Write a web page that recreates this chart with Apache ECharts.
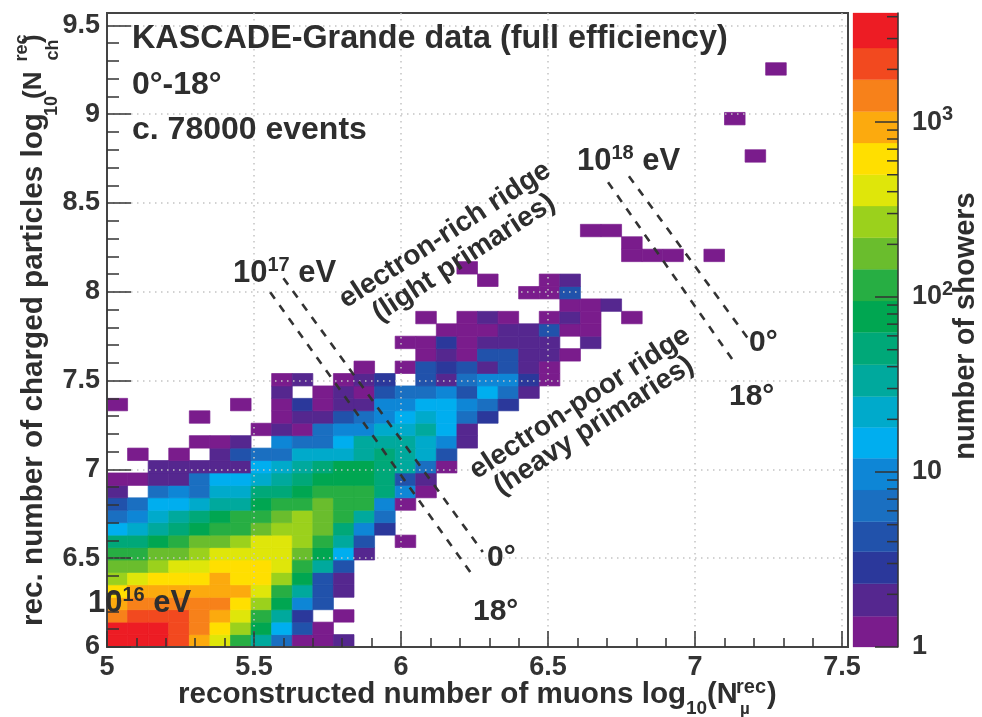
<!DOCTYPE html>
<html>
<head>
<meta charset="utf-8">
<style>html,body{margin:0;padding:0;background:#fff}#chart{width:982px;height:717px}</style>
<script src="https://cdn.jsdelivr.net/npm/echarts@6/dist/echarts.min.js"></script>
</head>
<body>
<div id="chart"></div>
<script>
// Histogram binning (log10 units)
const binOriginX = 5, binOriginY = 6, binSize = 0.07;
const xTicks = [5, 5.5, 6, 6.5, 7, 7.5];
const yTicks = [6, 6.5, 7, 7.5, 8, 8.5, 9, 9.5];

// Shower counts, one array per row of bins, lowest row first; 0 = empty bin
const counts = [
  [3300,3300,3300,2150,935,407,117,33,6,1,1,2],
  [3300,3300,3300,2150,1417,617,268,77,15,4,1],
  [1417,2150,2150,2150,1417,935,407,117,33,3,0,1],
  [935,1417,1417,1417,1417,1417,617,268,77,10,4],
  [617,935,935,935,935,935,935,407,117,33,4,2],
  [268,407,617,617,617,935,617,617,268,77,4,2],
  [177,177,268,407,407,617,617,617,407,117,33,4],
  [117,117,177,177,268,407,407,407,407,177,77,15,2],
  [50,50,77,117,177,177,268,407,407,268,117,33,4,0,1],
  [15,22,33,50,77,117,117,177,268,268,177,50,10,3],
  [6,10,22,33,50,77,117,117,177,268,177,117,33,6],
  [4,6,15,15,22,33,33,77,117,117,177,117,117,10,1],
  [2,0,6,10,6,22,22,50,50,77,117,117,117,50,10,1],
  [1,1,2,2,6,15,15,22,33,50,77,77,77,50,4,2],
  [0,0,2,2,2,2,2,15,22,33,50,77,77,50,33,6,1],
  [0,1,0,1,0,2,4,6,6,22,22,22,33,50,33,22,4],
  [0,0,0,0,1,1,2,0,10,6,6,15,33,33,33,22,10,2],
  [0,0,0,0,0,0,0,1,2,1,6,10,10,22,22,33,15,2],
  [0,0,0,0,1,0,0,0,1,2,2,4,6,10,15,22,15,6,3],
  [1,0,0,0,0,0,1,0,1,3,1,2,2,10,10,15,15,10,6,3],
  [0,0,0,0,0,0,0,0,2,0,1,2,1,4,6,6,10,4,15,6,2],
  [0,0,0,0,0,0,0,0,1,2,0,1,2,3,0,4,2,6,10,10,3,1],
  [0,0,0,0,0,0,0,0,0,0,0,0,1,0,1,4,3,4,2,4,2,1],
  [0,0,0,0,0,0,0,0,0,0,0,0,0,0,0,1,2,1,4,4,2,2,1],
  [0,0,0,0,0,0,0,0,0,0,0,0,0,0,1,1,3,1,2,2,2,2,0,2],
  [0,0,0,0,0,0,0,0,0,0,0,0,0,0,0,0,1,1,1,2,2,4,1,1],
  [0,0,0,0,0,0,0,0,0,0,0,0,0,0,0,1,0,1,2,1,0,1,2,1,0,1],
  [0,0,0,0,0,0,0,0,0,0,0,0,0,0,0,0,0,0,0,0,0,0,1,1,2],
  [0,0,0,0,0,0,0,0,0,0,0,0,0,0,0,0,0,0,0,0,1,1,4],
  [0,0,0,0,0,0,0,0,0,0,0,0,0,0,0,0,0,0,1,0,0,1,2]
];
// Isolated high bins: [column, row, count]
const isolatedBins = [
  [17,30,1],[25,31,1],[26,31,1],[27,31,1],[29,31,1],[25,32,1],
  [23,33,1],[24,33,1],[31,39,1],[30,42,1],[32,46,1]
];

// Colour scale
const colorEdges = [1,1.5,2.3,3.5,5.2,7.9,12,18,27,41,63,95,144,218,331,500,760,1150,1750,2650,4200];
const palette = ['#7a1c8c','#55278f','#2b389b','#2152ab','#1a6fc1','#0e86d6','#00aeef','#00aacb','#00a99d','#00a878',
                 '#00a651','#27ae43','#6abd2d','#9bd11c','#dfe60a','#ffdf00','#fcaa0e','#f7811a','#f2491f','#ed1c24'];
const colorbarMajor = [1,10,100,1000];
const colorbarMinor = [2,3,4,5,6,7,8,9,20,30,40,50,60,70,80,90,200,300,400,500,600,700,800,900,2000,3000,4000];

// Iso-energy guide lines [log10 Nmu, log10 Nch]
const line1e17deg0  = [[5.60,8.077],[6.278,6.535]];
const line1e17deg18 = [[5.555,7.998],[6.25,6.388]];
const line1e18deg0  = [[6.775,8.651],[7.184,7.728]];
const line1e18deg18 = [[6.704,8.617],[7.133,7.604]];

// Texts
const titleLines = ['KASCADE-Grande data (full efficiency)','0°-18°','c. 78000 events'];

const FONT = '"Liberation Sans", Arial, sans-serif';
const INK = '#2e2e2e';

const cells = [];
counts.forEach((row, r) => row.forEach((v, c) => { if (v > 0) cells.push([binOriginX + c*binSize, binOriginY + r*binSize, v]); }));
isolatedBins.forEach(b => cells.push([binOriginX + b[0]*binSize, binOriginY + b[1]*binSize, b[2]]));

const pieces = palette.map((color, i) => ({gte: colorEdges[i], lt: colorEdges[i+1], color}));
const bandData = palette.map((color, i) => ({value: [colorEdges[i], colorEdges[i+1]], itemStyle: {color}}));

function cellItem(params, api) {
  const x = api.value(0), y = api.value(1);
  const a = api.coord([x, y]), b = api.coord([x + binSize, y + binSize]);
  const col = api.visual('color');
  return {type: 'rect', shape: {x: a[0], y: b[1], width: b[0]-a[0], height: a[1]-b[1]},
          style: {fill: col, stroke: col, lineWidth: 0.7}};
}
function bandItem(params, api) {
  const a = api.coord([0, api.value(0)]), b = api.coord([1, api.value(1)]);
  return {type: 'rect', shape: {x: a[0], y: b[1], width: b[0]-a[0], height: a[1]-b[1]},
          style: {fill: api.style().fill, stroke: api.style().fill, lineWidth: 0.3}};
}
function minorTickItem(params, api) {
  const p = api.coord([api.value(0), api.value(1)]);
  return {type: 'line', shape: {x1: p[0]-11, y1: p[1], x2: p[0], y2: p[1]}, style: {stroke: '#333', lineWidth: 1.5}};
}
const guide = d => ({type: 'line', data: d, xAxisIndex: 0, yAxisIndex: 0, showSymbol: false, symbol: 'none', silent: true, z: 6,
  lineStyle: {color: '#333', width: 2.6, type: [8, 8]}});

const sup = {fontFamily: FONT, fontWeight: 'bold', fontSize: 20, fill: INK, color: INK, padding: [0,0,15,0]};
function text(t, x, y, size, extra) {
  return Object.assign({type: 'text', x, y, z: 50, silent: true,
    style: {text: t, font: 'bold ' + size + 'px ' + FONT, fontFamily: FONT, fontWeight: 'bold', fontSize: size, fill: INK,
            align: (extra && extra.align) || 'left', verticalAlign: 'middle',
            textAlign: (extra && extra.align) || 'left', textVerticalAlign: 'middle', rich: {s: sup}}},
    extra && extra.rotation !== undefined ? {rotation: extra.rotation} : {});
}
const ROT = 33 * Math.PI / 180, UP = Math.PI / 2;

const option = {
  animation: false,
  backgroundColor: '#fff',
  grid: [
    {left: 107, top: 13, width: 741, height: 634, show: true, borderColor: '#444', borderWidth: 2, backgroundColor: 'transparent'},
    {left: 853, top: 13, width: 45, height: 634}
  ],
  xAxis: [
    {gridIndex: 0, type: 'value', min: 5, max: 7.52, interval: 0.5, z: 5,
     axisLine: {show: true, onZero: false, lineStyle: {color: '#444', width: 2}},
     axisTick: {show: true, inside: true, length: 16, customValues: xTicks, lineStyle: {color: '#333', width: 1.5}},
     minorTick: {show: true, splitNumber: 5, length: 9, lineStyle: {color: '#333', width: 1.5}},
     splitLine: {show: true, lineStyle: {color: '#c4c4c4', width: 1.5, type: [1.5, 4.5]}},
     axisLabel: {customValues: xTicks, fontFamily: FONT, fontWeight: 'bold', fontSize: 27, color: '#333', margin: 7, hideOverlap: false}},
    {gridIndex: 1, type: 'value', min: 0, max: 1, show: false}
  ],
  yAxis: [
    {gridIndex: 0, type: 'value', min: 6, max: 9.57, interval: 0.5, z: 5,
     axisLine: {show: true, onZero: false, lineStyle: {color: '#444', width: 2}},
     axisTick: {show: true, inside: true, length: 24, customValues: yTicks, lineStyle: {color: '#333', width: 1.5}},
     minorTick: {show: true, splitNumber: 5, length: 12, lineStyle: {color: '#333', width: 1.5}},
     splitLine: {show: true, lineStyle: {color: '#c4c4c4', width: 1.5, type: [1.5, 4.5]}},
     axisLabel: {customValues: yTicks, fontFamily: FONT, fontWeight: 'bold', fontSize: 27, color: '#333', margin: 7, hideOverlap: false}},
    {gridIndex: 1, type: 'log', logBase: 10, min: 1, max: 4200, position: 'right', z: 5,
     axisLine: {show: true, onZero: false, lineStyle: {color: '#333', width: 1.5}},
     axisTick: {show: true, inside: true, length: 23, customValues: colorbarMajor, lineStyle: {color: '#333', width: 1.5}},
     minorTick: {show: false},
     splitLine: {show: false},
     axisLabel: {customValues: colorbarMajor, margin: 14, fontFamily: FONT, fontWeight: 'bold', fontSize: 27, color: '#333', align: 'left',
       formatter: v => v < 100 ? String(Math.round(v)) : '10{s|' + Math.round(Math.log10(v)) + '}',
       rich: {s: {fontFamily: FONT, fontWeight: 'bold', fontSize: 20, color: '#333', padding: [0,0,15,0]}}}}
  ],
  visualMap: {show: false, type: 'piecewise', seriesIndex: 0, dimension: 2, pieces},
  series: [
    {type: 'custom', name: 'showers', coordinateSystem: 'cartesian2d', xAxisIndex: 0, yAxisIndex: 0, z: 1, silent: true,
     renderItem: cellItem, data: cells, encode: {x: 0, y: 1}},
    guide(line1e17deg0), guide(line1e17deg18), guide(line1e18deg0), guide(line1e18deg18),
    {type: 'custom', coordinateSystem: 'cartesian2d', xAxisIndex: 1, yAxisIndex: 1, z: 1, silent: true,
     renderItem: bandItem, data: bandData, encode: {y: [0, 1]}},
    {type: 'custom', coordinateSystem: 'cartesian2d', xAxisIndex: 1, yAxisIndex: 1, z: 6, silent: true,
     renderItem: minorTickItem, data: colorbarMinor.map(v => [1, v]), encode: {x: 0, y: 1}}
  ],
  graphic: {elements: [
    text(titleLines[0], 132, 39, 32.3),
    text(titleLines[1], 132, 85, 32),
    text(titleLines[2], 132, 130, 32),
    text('10{s|16} eV', 88, 603, 31),
    text('10{s|17} eV', 233, 273, 31),
    text('10{s|18} eV', 577, 161, 31),
    text('0°', 487, 558, 30), text('18°', 473, 612, 30),
    text('0°', 749, 343, 30), text('18°', 729, 397, 30),
    text('electron-rich ridge', 445, 235, 28, {align: 'center', rotation: ROT}),
    text('(light primaries)', 464, 258, 28, {align: 'center', rotation: ROT}),
    text('electron-poor ridge', 580, 403, 28, {align: 'center', rotation: ROT}),
    text('(heavy primaries)', 594, 426, 28, {align: 'center', rotation: ROT}),
    text('reconstructed number of muons log', 178, 695, 29.6),
    text('10', 686, 709, 19),
    text('(N', 707, 695, 29),
    text('rec', 736, 687, 20),
    text('µ', 740, 709, 17),
    text(')', 767, 695, 29),
    text('rec. number of charged particles log', 34, 113, 29.7, {align: 'right', rotation: UP}),
    text('10', 52, 106, 18, {align: 'center', rotation: UP}),
    text('(N', 34, 99, 26, {align: 'left', rotation: UP}),
    text('rec', 22, 48, 18, {align: 'center', rotation: UP}),
    text('ch', 53, 50, 18, {align: 'center', rotation: UP}),
    text(')', 34, 43, 26, {align: 'left', rotation: UP}),
    text('number of showers', 966, 326, 29, {align: 'center', rotation: UP})
  ]}
};
const chart = echarts.init(document.getElementById('chart'), null, {renderer: 'canvas'});
chart.setOption(option);
</script>
</body>
</html>
